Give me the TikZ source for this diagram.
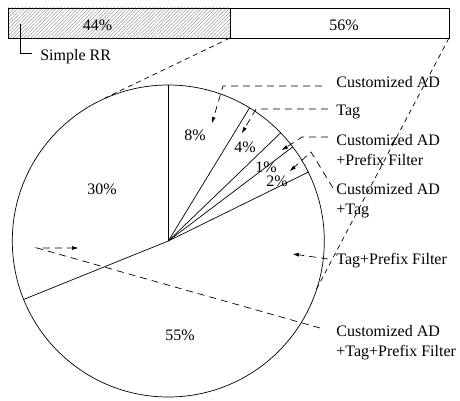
\documentclass[tikz,border=0pt]{standalone}
\usepackage{fontspec}
\setmainfont{Liberation Serif}
\usetikzlibrary{patterns.meta,arrows.meta}
\begin{document}
\begin{tikzpicture}[x=1pt,y=-1pt, line width=0.7pt,
  lbl/.style={font=\fontsize{16}{20}\selectfont, inner sep=0pt, align=left, anchor=west},
  pct/.style={font=\fontsize{16}{20}\selectfont, inner sep=0pt},
  callout/.style={dash pattern=on 7pt off 5pt, -{Triangle[length=6pt,width=3.5pt]}},
  zoomline/.style={dash pattern=on 5pt off 4pt},
  slice/.style={line width=0.7pt}]
\useasboundingbox (0,0) rectangle (460,401);

% bar
\fill[pattern={Lines[angle=45,distance=2.5pt,line width=0.35pt]}, pattern color=gray] (8,8) rectangle (230,38);
\draw (8,8) rectangle (449,38);
\coordinate (bartop) at (230,8);
\coordinate (barsplit) at (230,38);
\coordinate (barright) at (449,38);
\draw (bartop) -- (barsplit);
\node[pct] (p44) at (97.5,25) {44\%};
\node[pct] (p56) at (344,25) {56\%};

% simple RR
\node[lbl] (rr) at (40,57) {Simple RR};
\coordinate (rrtop) at (20.5,24);
\coordinate (rrend) at (32,53.5);
\draw (rrtop) |- (rrend);

% pie
\coordinate (c) at (168.3,241);
\draw (c) circle[radius=156pt];
\path (c) ++(-90:156) coordinate (a0);
\path (c) ++(-58.6:156) coordinate (a1);
\path (c) ++(-43.9:156) coordinate (a2);
\path (c) ++(-37.1:156) coordinate (a3);
\path (c) ++(-26.2:156) coordinate (a4);
\path (c) ++(158:156) coordinate (a5);
\foreach \p in {a0,a1,a2,a3,a4,a5} \draw[slice] (c) -- (\p);

\node[pct] (s30) at (102,189) {30\%};
\node[pct] (s8) at (195,135) {8\%};
\node[pct] (s4) at (245,147) {4\%};
\node[pct] (s1) at (266,167) {1\%};
\node[pct] (s2) at (277,181) {2\%};
\node[pct] (s55) at (180,335) {55\%};

% zoom lines
\coordinate (zl) at (105,98);
\coordinate (zr) at (316,290);
\draw[zoomline] (barsplit) -- (zl);
\draw[zoomline] (barright) -- (zr);

% labels
\node[lbl] (l1) at (336,82) {Customized AD};
\node[lbl] (l2) at (336,112) {Tag};
\node[lbl] (l3) at (336,150.5) {Customized AD\\+Prefix Filter};
\node[lbl] (l4) at (336,200.5) {Customized AD\\+Tag};
\node[lbl] (l5) at (336,261) {Tag+Prefix Filter};
\node[lbl] (l6) at (336,342.5) {Customized AD\\+Tag+Prefix Filter};

% callouts
\coordinate (c1s) at (322,86); \coordinate (c1m) at (223,86); \coordinate (c1e) at (212,123);
\coordinate (c2s) at (328,109); \coordinate (c2m) at (256,109); \coordinate (c2e) at (242,133);
\coordinate (c3s) at (328,137); \coordinate (c3m) at (302,137); \coordinate (c3e) at (282,150);
\coordinate (c4s) at (333,188); \coordinate (c4m) at (311,152); \coordinate (c4e) at (290,171);
\coordinate (c5s) at (328,259); \coordinate (c5e) at (293,254);
\coordinate (c6s) at (320,328); \coordinate (c6m) at (37,248); \coordinate (c6e) at (78,248);
\draw[callout] (c1s) -- (c1m) -- (c1e);
\draw[callout] (c2s) -- (c2m) -- (c2e);
\draw[callout] (c3s) -- (c3m) -- (c3e);
\draw[callout] (c4s) -- (c4m) -- (c4e);
\draw[callout] (c5s) -- (c5e);
\draw[callout] (c6s) -- (c6m) -- (c6e);
\end{tikzpicture}
\end{document}
